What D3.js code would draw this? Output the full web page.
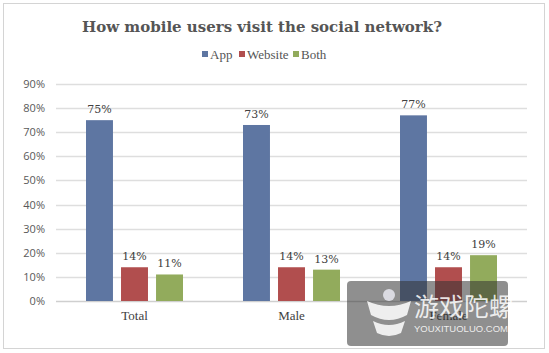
<!DOCTYPE html>
<html>
<head>
<meta charset="utf-8">
<script src="https://cdn.jsdelivr.net/npm/d3@7"></script>
<style>
  body { margin: 0; background: #fff; }
</style>
</head>
<body>
<svg id="chart" width="549" height="353"></svg>
<script>
// data
const categories = ["Total", "Male", "Female"];
const seriesNames = ["App", "Website", "Both"];
const appValues = [75, 73, 77];
const websiteValues = [14, 14, 14];
const bothValues = [11, 13, 19];
const yTicks = [0, 10, 20, 30, 40, 50, 60, 70, 80, 90];

const colors = ["#5e76a2", "#b14e4e", "#92ab5c"];

const svg = d3.select("#chart");
const width = +svg.attr("width");
const height = +svg.attr("height");

// outer frame
svg.append("rect")
    .attr("x", 3.5).attr("y", 3.5)
    .attr("width", 541).attr("height", 345)
    .attr("fill", "#fff")
    .attr("stroke", "#d4d4d4");

// title
svg.append("text")
    .attr("x", 262)
    .attr("y", 32)
    .attr("text-anchor", "middle")
    .style("font-family", "'DejaVu Serif', Georgia, serif")
    .style("font-size", "15px")
    .style("font-weight", "bold")
    .attr("fill", "#555")
    .text("How mobile users visit the social network?");

// legend
const legendX = [202, 239, 293];
const legend = svg.append("g");
seriesNames.forEach((name, i) => {
    legend.append("rect")
        .attr("x", legendX[i]).attr("y", 51)
        .attr("width", 6).attr("height", 6)
        .attr("fill", colors[i]);
    legend.append("text")
        .attr("x", legendX[i] + 8).attr("y", 59)
        .style("font-family", "'Liberation Serif', serif")
        .style("font-size", "13px")
        .attr("fill", "#555")
        .text(name);
});

const margin = { top: 84, right: 22, bottom: 52, left: 56 };
const chartWidth = width - margin.left - margin.right;
const chartHeight = height - margin.top - margin.bottom;

const x0 = d3.scaleBand()
    .domain(categories)
    .range([0, chartWidth]);

const x1 = d3.scaleBand()
    .domain(seriesNames)
    .range([0, 97])
    .paddingInner(0.23);

const y = d3.scaleLinear()
    .domain([0, 90])
    .range([chartHeight, 0]);

const chart = svg.append("g")
    .attr("transform", `translate(${margin.left},${margin.top})`);

// gridlines
chart.selectAll("line.grid")
    .data(yTicks)
    .enter()
    .append("line")
    .attr("class", "grid")
    .attr("x1", 0).attr("x2", chartWidth)
    .attr("y1", d => Math.round(y(d)) + 0.5)
    .attr("y2", d => Math.round(y(d)) + 0.5)
    .attr("stroke", d => d === 0 ? "#cfcfcf" : "#dedede")
    .attr("stroke-width", 1.5);

// y axis labels
const yAxis = chart.append("g")
    .call(d3.axisLeft(y).tickValues(yTicks).tickFormat(d => d + "%").tickSize(0).tickPadding(11));
yAxis.select(".domain").remove();
yAxis.selectAll("text")
    .style("font-family", "'Open Sans', sans-serif")
    .style("font-size", "11px")
    .attr("fill", "#595959");

// bars
const rows = categories.map((c, i) => ({
    category: c,
    values: [appValues[i], websiteValues[i], bothValues[i]]
}));

const groups = chart.selectAll("g.group")
    .data(rows)
    .enter()
    .append("g")
    .attr("class", "group")
    .attr("transform", d => `translate(${x0(d.category) + (x0.bandwidth() - 97) / 2},0)`);

groups.selectAll("rect")
    .data(d => d.values.map((v, i) => ({ name: seriesNames[i], value: v, i })))
    .enter()
    .append("rect")
    .attr("x", d => x1(d.name))
    .attr("y", d => y(d.value))
    .attr("width", x1.bandwidth())
    .attr("height", d => chartHeight - y(d.value))
    .attr("fill", d => colors[d.i]);

groups.selectAll("text.value")
    .data(d => d.values.map((v, i) => ({ name: seriesNames[i], value: v })))
    .enter()
    .append("text")
    .attr("class", "value")
    .attr("x", d => x1(d.name) + x1.bandwidth() / 2)
    .attr("y", d => y(d.value) - 7)
    .attr("text-anchor", "middle")
    .style("font-family", "'DejaVu Serif', Georgia, serif")
    .style("font-size", "11px")
    .attr("fill", "#404040")
    .text(d => d.value + "%");

// x axis labels
const xAxis = chart.append("g")
    .attr("transform", `translate(0,${chartHeight})`)
    .call(d3.axisBottom(x0).tickSize(0).tickPadding(10));
xAxis.select(".domain").remove();
xAxis.selectAll("text")
    .style("font-family", "'Liberation Serif', serif")
    .style("font-size", "13px")
    .attr("fill", "#404040");

// watermark overlay (drawn over the Female label as in the source image)
const wm = svg.append("g").attr("transform", "translate(347,281)");
wm.append("rect")
    .attr("width", 161).attr("height", 65).attr("rx", 4)
    .attr("fill", "#333").attr("fill-opacity", 0.55);
wm.append("path")
    .attr("d", "M20,20 Q42,30 64,20 L60,34 Q42,44 24,34 Z M26,40 Q42,48 58,40 L54,52 Q42,58 30,52 Z")
    .attr("fill", "#fff").attr("fill-opacity", 0.85);
wm.append("circle")
    .attr("cx", 42).attr("cy", 14).attr("r", 6)
    .attr("fill", "#e8e8f0").attr("fill-opacity", 0.85);
wm.append("text")
    .attr("x", 67).attr("y", 35)
    .style("font-family", "'Noto Sans CJK SC', sans-serif")
    .style("font-size", "25px")
    .attr("fill", "#fff").attr("fill-opacity", 0.85)
    .text("游戏陀螺");
wm.append("text")
    .attr("x", 67).attr("y", 51)
    .style("font-family", "'Liberation Sans', sans-serif")
    .style("font-size", "9.5px")
    .attr("fill", "#fff").attr("fill-opacity", 0.85)
    .text("YOUXITUOLUO.COM");
</script>
</body>
</html>
